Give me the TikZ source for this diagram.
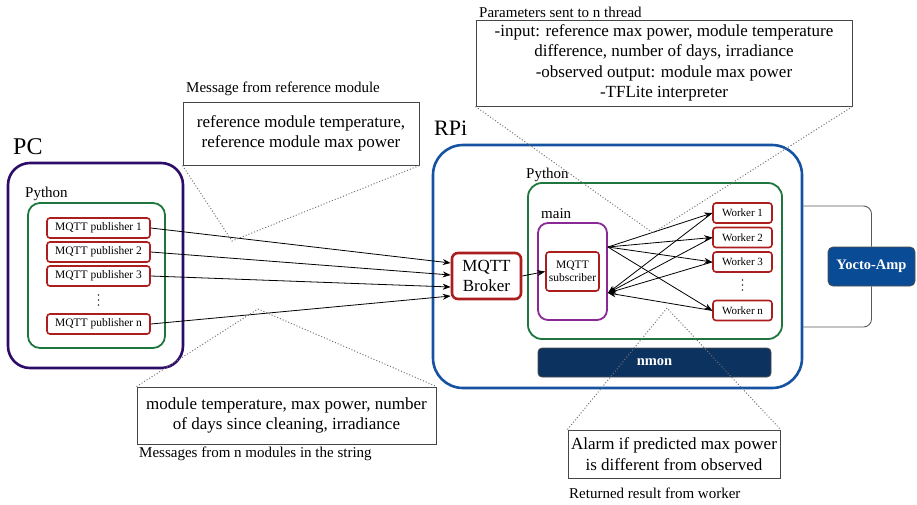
\documentclass[tikz,border=0pt]{standalone}
\usepackage{fontspec}
\setmainfont{Liberation Serif}
\usetikzlibrary{arrows.meta,calc}
\definecolor{pcpurple}{RGB}{45,12,105}
\definecolor{pygreen}{RGB}{28,118,62}
\definecolor{boxred}{RGB}{172,30,30}
\definecolor{mainpurple}{RGB}{138,40,150}
\definecolor{rpiblue}{RGB}{22,82,162}
\definecolor{nmonblue}{RGB}{12,50,95}
\definecolor{yoctoblue}{RGB}{10,75,150}
\definecolor{notegray}{RGB}{70,70,70}
\begin{document}
\begin{tikzpicture}[x=1pt,y=-1pt,
  container/.style={draw, inner sep=0pt},
  redbox/.style={draw=boxred, line width=1.6pt, rounded corners=3pt, fill=white, inner sep=0pt, minimum height=20pt, align=center, font=\fontsize{11.5}{12.5}\selectfont},
  note/.style={draw=notegray, line width=1pt, inner sep=0pt, align=center, fill=white, font=\fontsize{17}{20.5}\selectfont},
  title/.style={anchor=west, inner sep=0pt, font=\fontsize{15}{18}\selectfont},
  callout/.style={draw=black!55, dotted, line width=1pt},
  arr/.style={-{Stealth[length=8pt,width=6pt]}, line width=0.8pt},
  vdot/.style={fill=black!80, circle, inner sep=0pt, minimum size=1.8pt},
  darkbox/.style={draw=black!70, line width=0.8pt, rounded corners=4pt, inner sep=0pt, text=white, font=\bfseries\fontsize{14.5}{16}\selectfont}
]
\useasboundingbox (0,0) rectangle (917,504);

% ---------- PC side ----------
\node[anchor=west, inner sep=0pt, font=\fontsize{24}{26}\selectfont] (pclabel) at (13,147) {PC};
\node[container, draw=pcpurple, line width=2.6pt, rounded corners=22pt, minimum width=175pt, minimum height=205pt] (pc) at (95.5,265.5) {};
\node[title] (pylabel1) at (25,194) {Python};
\node[container, draw=pygreen, line width=1.8pt, rounded corners=12pt, minimum width=137pt, minimum height=145pt] (py1) at (96.5,275.5) {};
\node[redbox, minimum width=103pt] (p1) at (98.5,228) {MQTT publisher 1};
\node[redbox, minimum width=103pt] (p2) at (98.5,252) {MQTT publisher 2};
\node[redbox, minimum width=103pt] (p3) at (98.5,276) {MQTT publisher 3};
\node[vdot] (pd1) at (98.5,295) {};
\node[vdot] (pd2) at (98.5,300) {};
\node[vdot] (pd3) at (98.5,305) {};
\node[redbox, minimum width=103pt] (pn) at (98.5,324) {MQTT publisher n};

% ---------- RPi side ----------
\node[anchor=west, inner sep=0pt, font=\fontsize{22}{24}\selectfont] (rpilabel) at (434,128) {RPi};
\node[container, draw=rpiblue, line width=2.6pt, rounded corners=30pt, minimum width=369pt, minimum height=243pt] (rpi) at (617.5,266.5) {};
\node[title] (pylabel2) at (526,175) {Python};
\node[container, draw=pygreen, line width=1.8pt, rounded corners=14pt, minimum width=254pt, minimum height=156pt] (py2) at (655,261) {};
\node[title] (mainlabel) at (541,214) {main};
\node[container, draw=mainpurple, line width=1.8pt, rounded corners=10pt, minimum width=69pt, minimum height=97pt] (main) at (572.5,271.5) {};
\node[redbox, minimum width=53pt, minimum height=39pt, font=\fontsize{11.5}{13}\selectfont] (sub) at (572.5,271.5) {MQTT\\subscriber};
\node[redbox, line width=2.6pt, rounded corners=6pt, minimum width=69pt, minimum height=46pt, font=\fontsize{17}{20}\selectfont] (broker) at (486.5,276) {MQTT\\Broker};
\node[redbox, minimum width=59pt, font=\fontsize{11}{12}\selectfont] (w1) at (742.5,213) {Worker 1};
\node[redbox, minimum width=59pt, font=\fontsize{11}{12}\selectfont] (w2) at (742.5,237.5) {Worker 2};
\node[redbox, minimum width=59pt, font=\fontsize{11}{12}\selectfont] (w3) at (742.5,262) {Worker 3};
\node[vdot] (wd1) at (742.5,280) {};
\node[vdot] (wd2) at (742.5,285) {};
\node[vdot] (wd3) at (742.5,290) {};
\node[redbox, minimum width=59pt, font=\fontsize{11}{12}\selectfont] (wn) at (742.5,310.5) {Worker n};
\node[darkbox, fill=nmonblue, minimum width=233pt, minimum height=29pt] (nmon) at (654.5,362.5) {nmon};
\node[darkbox, fill=yoctoblue, rounded corners=5pt, minimum width=87pt, minimum height=39pt] (yocto) at (871.5,266.5) {Yocto-Amp};

% RPi -- Yocto bracket
\draw[black!65, line width=0.9pt, rounded corners=8pt] ($(rpi.east)+(0,-60.5)$) -| (yocto.north);
\draw[black!65, line width=0.9pt, rounded corners=8pt] (yocto.south) |- ($(rpi.east)+(0,60.5)$);

% ---------- arrows ----------
\draw[arr] (p1.east) -- ($(broker.west)+(0,-13)$);
\draw[arr] (p2.east) -- ($(broker.west)+(0,-1)$);
\draw[arr] (p3.east) -- ($(broker.west)+(0,11)$);
\draw[arr] (pn.east) -- ($(broker.west)+(0,20)$);
\draw[arr] (broker.east) -- (sub.west);

\coordinate (mout) at ($(main.east)+(0,-24.5)$);
\coordinate (min) at ($(main.east)+(0,21.5)$);
\foreach \w in {w1,w2,w3,wn}{
  \draw[arr] (mout) -- (\w.west);
  \draw[arr] (\w.west) -- (min);
}

% ---------- callouts ----------
\node[title] (reftitle) at (186,89) {Message from reference module};
\node[note, minimum width=236pt, minimum height=63pt] (refnote) at (301,133.5) {reference module temperature,\\reference module max power};
\coordinate (refpt) at (232,241);
\draw[callout] (refnote.south west) -- (refpt) -- (refnote.south east);

\node[title] (partitle) at (479,12) {Parameters sent to n thread};
\node[note, minimum width=376pt, minimum height=86pt] (parnote) at (664,63) {-input: reference max power, module temperature\\difference, number of days, irradiance\\-observed output: module max power\\-TFLite interpreter};
\coordinate (parpt) at (653,233);
\draw[callout] (parnote.south west) -- (parpt) -- (parnote.south east);

\node[note, minimum width=299pt, minimum height=57pt] (msgnote) at (286.5,415.5) {module temperature, max power, number\\of days since cleaning, irradiance};
\node[title] (msgtitle) at (139,454) {Messages from n modules in the string};
\coordinate (msgpt) at (258,309);
\draw[callout] (msgnote.north west) -- (msgpt) -- (msgnote.north east);

\node[note, minimum width=212pt, minimum height=48pt] (almnote) at (674,454) {Alarm if predicted max power\\is different from observed};
\node[title] (almtitle) at (569,493) {Returned result from worker};
\coordinate (almpt) at (667,308);
\draw[callout] (almnote.north west) -- (almpt) -- (almnote.north east);
\end{tikzpicture}
\end{document}
